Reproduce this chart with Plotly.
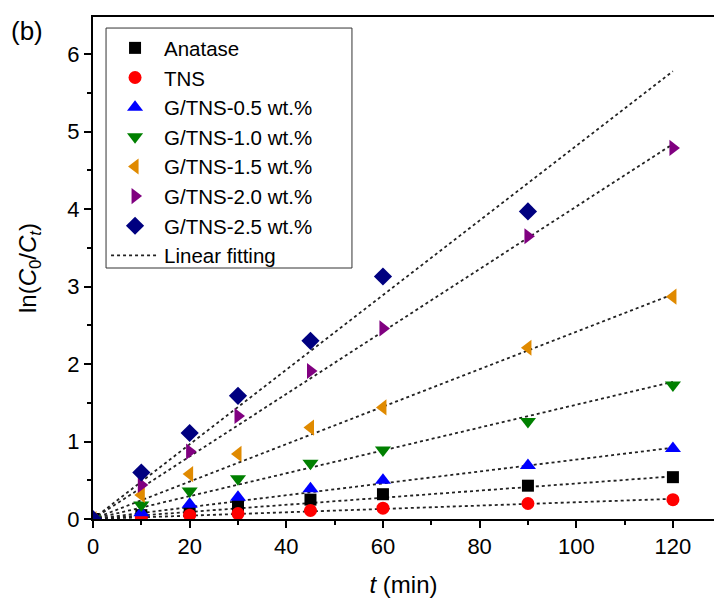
import plotly.graph_objects as go

t = [0, 10, 20, 30, 45, 60, 90, 120]

names = ["Anatase", "TNS", "G/TNS-0.5 wt.%", "G/TNS-1.0 wt.%",
         "G/TNS-1.5 wt.%", "G/TNS-2.0 wt.%", "G/TNS-2.5 wt.%"]

anatase = [0, 0.05, 0.10, 0.17, 0.25, 0.32, 0.43, 0.54]
tns = [0, 0.02, 0.05, 0.07, 0.11, 0.14, 0.20, 0.25]
g05 = [0, 0.08, 0.19, 0.28, 0.39, 0.50, 0.69, 0.91]
g10 = [0, 0.18, 0.36, 0.52, 0.72, 0.89, 1.26, 1.73]
g15 = [0, 0.31, 0.58, 0.84, 1.18, 1.44, 2.21, 2.87]
g20 = [0, 0.44, 0.87, 1.33, 1.91, 2.46, 3.65, 4.79]
g25 = [0, 0.60, 1.11, 1.59, 2.30, 3.13, 3.97]
t25 = [0, 10, 20, 30, 45, 60, 90]

# fitted line end values at t = 120 (lines start at origin)
fit_t = [0, 120]
fit_end = [0.55, 0.26, 0.92, 1.77, 2.90, 4.84, 5.78]

series = [anatase, tns, g05, g10, g15, g20, g25]
times = [t, t, t, t, t, t, t25]
colors = ["#000000", "#FF0000", "#0000FF", "#008000", "#E08A00", "#800080", "#000080"]
symbols = ["square", "circle", "triangle-up", "triangle-down",
           "triangle-left", "triangle-right", "diamond"]
sizes = [12, 13, 14, 14, 14, 14, 14]

fig = go.Figure()

for i in range(len(series)):
    fig.add_trace(go.Scatter(
        x=fit_t, y=[0, fit_end[i]], mode="lines",
        line=dict(color="#222222", width=1.8, dash="dot"),
        showlegend=False, hoverinfo="skip"))

for i in range(len(series)):
    fig.add_trace(go.Scatter(
        x=times[i], y=series[i], mode="markers", name=names[i],
        marker=dict(symbol=symbols[i], color=colors[i], size=sizes[i],
                    line=dict(width=0))))

fig.add_trace(go.Scatter(
    x=[None], y=[None], mode="lines", name="Linear fitting",
    line=dict(color="#222222", width=1.8, dash="dot")))

font_family = "Arial, Liberation Sans, sans-serif"

# legend frame (paper coordinates)
box = dict(x0=0.021, x1=0.417, y0=0.5, y1=0.978)

fig.update_layout(
    width=714, height=600,
    margin=dict(l=93, r=0, t=17, b=81),
    paper_bgcolor="white", plot_bgcolor="white",
    font=dict(family=font_family, size=22, color="black"),
    showlegend=True,
    legend=dict(
        x=box["x0"], y=box["y1"], xanchor="left", yanchor="top",
        bgcolor="rgba(255,255,255,0)", borderwidth=0,
        font=dict(size=20.5), itemwidth=48,
    ),
    xaxis=dict(
        range=[0, 128.5], tickvals=[0, 20, 40, 60, 80, 100, 120],
        ticks="outside", ticklen=7, tickwidth=2, tickcolor="black",
        showline=True, linecolor="black", linewidth=2, mirror=True,
        showgrid=False, zeroline=False,
        minor=dict(dtick=10, tick0=0, ticks="outside", ticklen=4, tickwidth=2, tickcolor="black"),
        tickfont=dict(size=22),
        title=dict(text="<i>t</i> (min)", font=dict(size=24), standoff=18),
    ),
    yaxis=dict(
        range=[0, 6.48], tickvals=[0, 1, 2, 3, 4, 5, 6],
        ticks="outside", ticklen=7, tickwidth=2, tickcolor="black",
        showline=True, linecolor="black", linewidth=2, mirror=False,
        showgrid=False, zeroline=False,
        minor=dict(dtick=0.5, tick0=0, ticks="outside", ticklen=4, tickwidth=2, tickcolor="black"),
        tickfont=dict(size=22),
        title=dict(text="ln(<i>C</i><sub>0</sub>/<i>C</i><sub><i>t</i></sub>)", font=dict(size=24), standoff=24),
    ),
    shapes=[dict(type="rect", xref="paper", yref="paper",
                 x0=box["x0"], x1=box["x1"], y0=box["y0"], y1=box["y1"],
                 line=dict(color="#333333", width=1), fillcolor="white", layer="above")],
    annotations=[dict(text="(b)", xref="paper", yref="paper", x=-0.135, y=1.005,
                      xanchor="left", yanchor="top", showarrow=False,
                      font=dict(size=26))],
)

fig.write_html("out.html")
